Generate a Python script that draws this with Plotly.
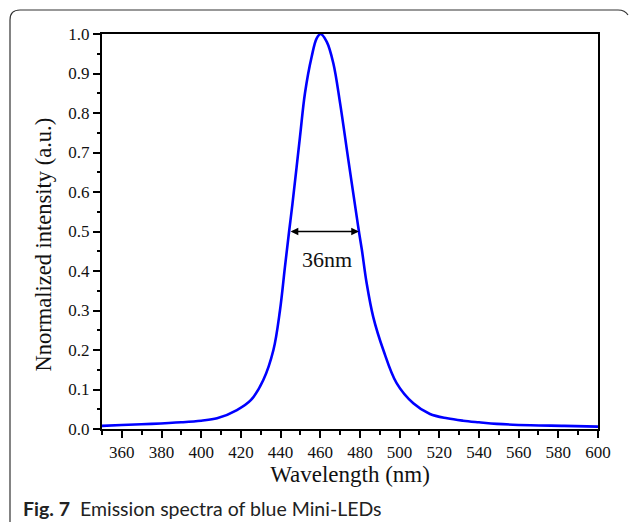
import plotly.graph_objects as go

# ---- data ----
wavelength = [350, 360, 375, 390, 400, 408, 418, 425, 431.3, 436.4, 439.7, 442.2, 444.3, 446,
              449.8, 452.3, 455.7, 458.2, 460.2, 463.3, 466.6, 470, 474.2, 478.4, 479.5,
              481, 483.4, 486.7, 491.8, 498.5, 506.9, 515.3, 524, 532, 540, 549, 566, 583, 600]
intensity = [0.008, 0.010, 0.013, 0.017, 0.021, 0.027, 0.048, 0.073, 0.124, 0.20, 0.30, 0.41, 0.50, 0.57,
             0.74, 0.85, 0.943, 0.989, 1.0, 0.98, 0.926, 0.825, 0.68, 0.537, 0.50,
             0.453, 0.369, 0.284, 0.20, 0.116, 0.065, 0.038, 0.027, 0.021, 0.017, 0.013, 0.0095, 0.008, 0.006]
fwhm_left, fwhm_right, half_level = 444.3, 479.5, 0.5
fwhm_label = "36nm"
x_title = "Wavelength (nm)"
y_title = "Nnormalized intensity (a.u.)"
caption_bold = "Fig. 7"
caption_text = "Emission spectra of blue Mini-LEDs"

# ---- layout geometry ----
W, H = 630, 526
L, R, T, B = 102, 598, 34, 429

def px(x):
    return (x - L) / (R - L)

def py(y):
    return (B - y) / (B - T)

serif = "Liberation Serif"

fig = go.Figure()
fig.add_trace(go.Scatter(x=wavelength, y=intensity, mode="lines",
                         line=dict(color="#0000ff", width=2.6, shape="spline", smoothing=1.0),
                         hoverinfo="skip", showlegend=False))

axis_common = dict(showline=True, linecolor="black", linewidth=2, mirror=True,
                   ticks="outside", ticklen=7, tickwidth=1.6, tickcolor="black",
                   showgrid=False, zeroline=False,
                   tickfont=dict(family=serif, size=17, color="#111"))

fig.update_xaxes(range=[350, 600], tick0=360, dtick=20,
                 minor=dict(ticks="outside", ticklen=3.5, tickwidth=1.6, tickcolor="black", dtick=10, tick0=350),
                 title=dict(text=x_title, font=dict(family=serif, size=23, color="#111"), standoff=2),
                 **axis_common)
fig.update_yaxes(range=[0, 1], dtick=0.1, tickformat=".1f",
                 minor=dict(ticks="outside", ticklen=3.5, tickwidth=1.6, tickcolor="black", dtick=0.05),
                 **axis_common)

# y-axis title (placed where the reference has it, slightly below centre)
fig.add_annotation(x=px(43.5), y=py(245), xref="paper", yref="paper", textangle=-90,
                   xanchor="center", yanchor="middle", text=y_title, showarrow=False,
                   font=dict(family=serif, size=22.5, color="#111"))

# FWHM double arrow
fig.add_annotation(x=fwhm_right, y=half_level, ax=fwhm_left, ay=half_level,
                   xref="x", yref="y", axref="x", ayref="y", text="",
                   showarrow=True, arrowhead=2, arrowside="end+start", arrowsize=1.1,
                   arrowwidth=1.4, arrowcolor="black")
fig.add_annotation(x=px(327), y=py(259), xref="paper", yref="paper",
                   text=fwhm_label, showarrow=False,
                   font=dict(family=serif, size=22, color="#111"))

# caption
fig.add_annotation(x=px(21), y=py(508), xref="paper", yref="paper", xanchor="left", yanchor="middle",
                   text="<b>" + caption_bold + "</b>&nbsp;&nbsp;" + caption_text, showarrow=False,
                   font=dict(family="Lato", size=19.5, color="#222"))

# outer rounded frame
path = (f"M {px(10)},{py(522)} L {px(10)},{py(20)} Q {px(10)},{py(10)} {px(20)},{py(10)} "
        f"L {px(618)},{py(10)} Q {px(625)},{py(10)} {px(628)},{py(15)}")
fig.add_shape(type="path", path=path, xref="paper", yref="paper",
              line=dict(color="#333", width=1.2))

fig.update_layout(width=W, height=H, margin=dict(l=L, r=W - R, t=T, b=H - B),
                  paper_bgcolor="white", plot_bgcolor="white")

fig.write_html("out.html")
